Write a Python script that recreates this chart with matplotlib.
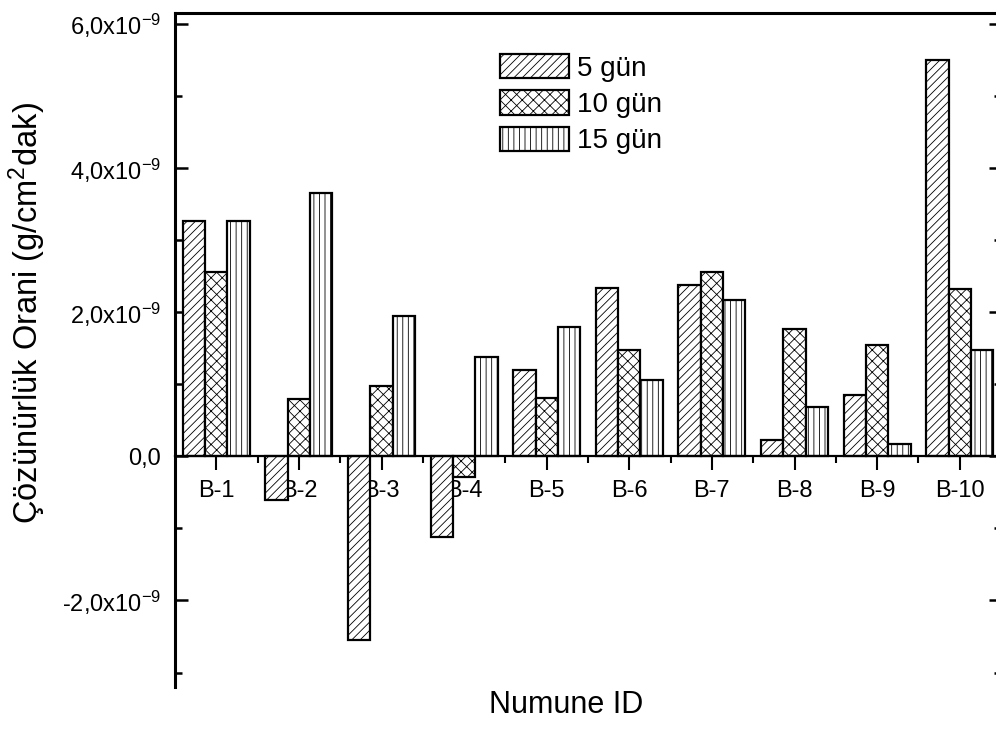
import matplotlib
matplotlib.use("Agg")
import matplotlib.pyplot as plt
import numpy as np
from matplotlib.ticker import FixedLocator, FixedFormatter, MultipleLocator

plt.rcParams['font.family'] = ['Liberation Sans', 'DejaVu Sans']
plt.rcParams['mathtext.default'] = 'regular'
plt.rcParams['hatch.color'] = '0.4'
plt.rcParams['hatch.linewidth'] = 0.6

categories = ['B-1', 'B-2', 'B-3', 'B-4', 'B-5', 'B-6', 'B-7', 'B-8', 'B-9', 'B-10']
series_names = ['5 gün', '10 gün', '15 gün']
gun5 = [3.26, -0.61, -2.55, -1.12, 1.20, 2.33, 2.37, 0.22, 0.85, 5.50]
gun10 = [2.56, 0.80, 0.97, -0.29, 0.81, 1.48, 2.56, 1.77, 1.54, 2.32]
gun15 = [3.26, 3.65, 1.94, 1.38, 1.80, 1.06, 2.17, 0.68, 0.17, 1.48]
scale = 1e-9
ytick_values = [-2e-9, 0.0, 2e-9, 4e-9, 6e-9]
ytick_labels = ['-2,0x10$^{-9}$', '0,0', '2,0x10$^{-9}$', '4,0x10$^{-9}$', '6,0x10$^{-9}$']

fig = plt.figure(figsize=(9.96, 7.29), dpi=100)
ax = fig.add_axes([175/996, 1 - 687/729, 826/996, 674/729])

x = np.arange(1, len(categories) + 1)
w = 0.27
hatches = ['////', 'xxx', '|||']
handles = []
for i, (vals, name, h) in enumerate(zip([gun5, gun10, gun15], series_names, hatches)):
    b = ax.bar(x + (i - 1) * w, np.array(vals) * scale, width=w, facecolor='white',
               edgecolor='black', linewidth=1.6, hatch=h, label=name, zorder=2)
    handles.append(b)

ax.set_xlim(0.5, 10.5)
ax.set_ylim(-3.2e-9, 6.15e-9)

ax.spines['bottom'].set_position(('data', 0))
ax.spines['bottom'].set_linewidth(1.6)
ax.spines['bottom'].set_zorder(3)
ax.spines['left'].set_linewidth(2.2)
ax.spines['top'].set_linewidth(2.2)
ax.spines['right'].set_linewidth(2.2)

ax.xaxis.set_major_locator(FixedLocator(x))
ax.xaxis.set_major_formatter(FixedFormatter(categories))
ax.xaxis.set_minor_locator(FixedLocator(x[:-1] + 0.5))
ax.tick_params(axis='x', which='major', direction='out', length=10, width=1.5,
               labelsize=17, pad=7, top=False)
ax.tick_params(axis='x', which='minor', direction='out', length=5, width=1.5, top=False)

ax.yaxis.set_major_locator(FixedLocator(ytick_values))
ax.yaxis.set_major_formatter(FixedFormatter(ytick_labels))
ax.yaxis.set_minor_locator(MultipleLocator(1e-9))
ax.tick_params(axis='y', which='major', direction='in', length=9, width=1.8,
               labelsize=17, pad=10, right=True)
ax.tick_params(axis='y', which='minor', direction='in', length=5, width=1.8, right=True)

fig.text(0.027, 1 - 313/729, 'Çözünürlük Orani (g/cm$^2$dak)', rotation=90,
         ha='center', va='center', fontsize=23.5)
fig.text(566/996, 1 - 705/729, 'Numune ID', ha='center', va='center', fontsize=22)

leg = ax.legend(handles=handles, labels=series_names, loc='upper left',
                bbox_to_anchor=(500/996, 1 - 54/729), bbox_transform=fig.transFigure,
                frameon=False, fontsize=20, handlelength=2.48, handleheight=0.97,
                handletextpad=0.3, labelspacing=0.31, borderpad=0, borderaxespad=0)

fig.savefig('out.png', dpi=100)
